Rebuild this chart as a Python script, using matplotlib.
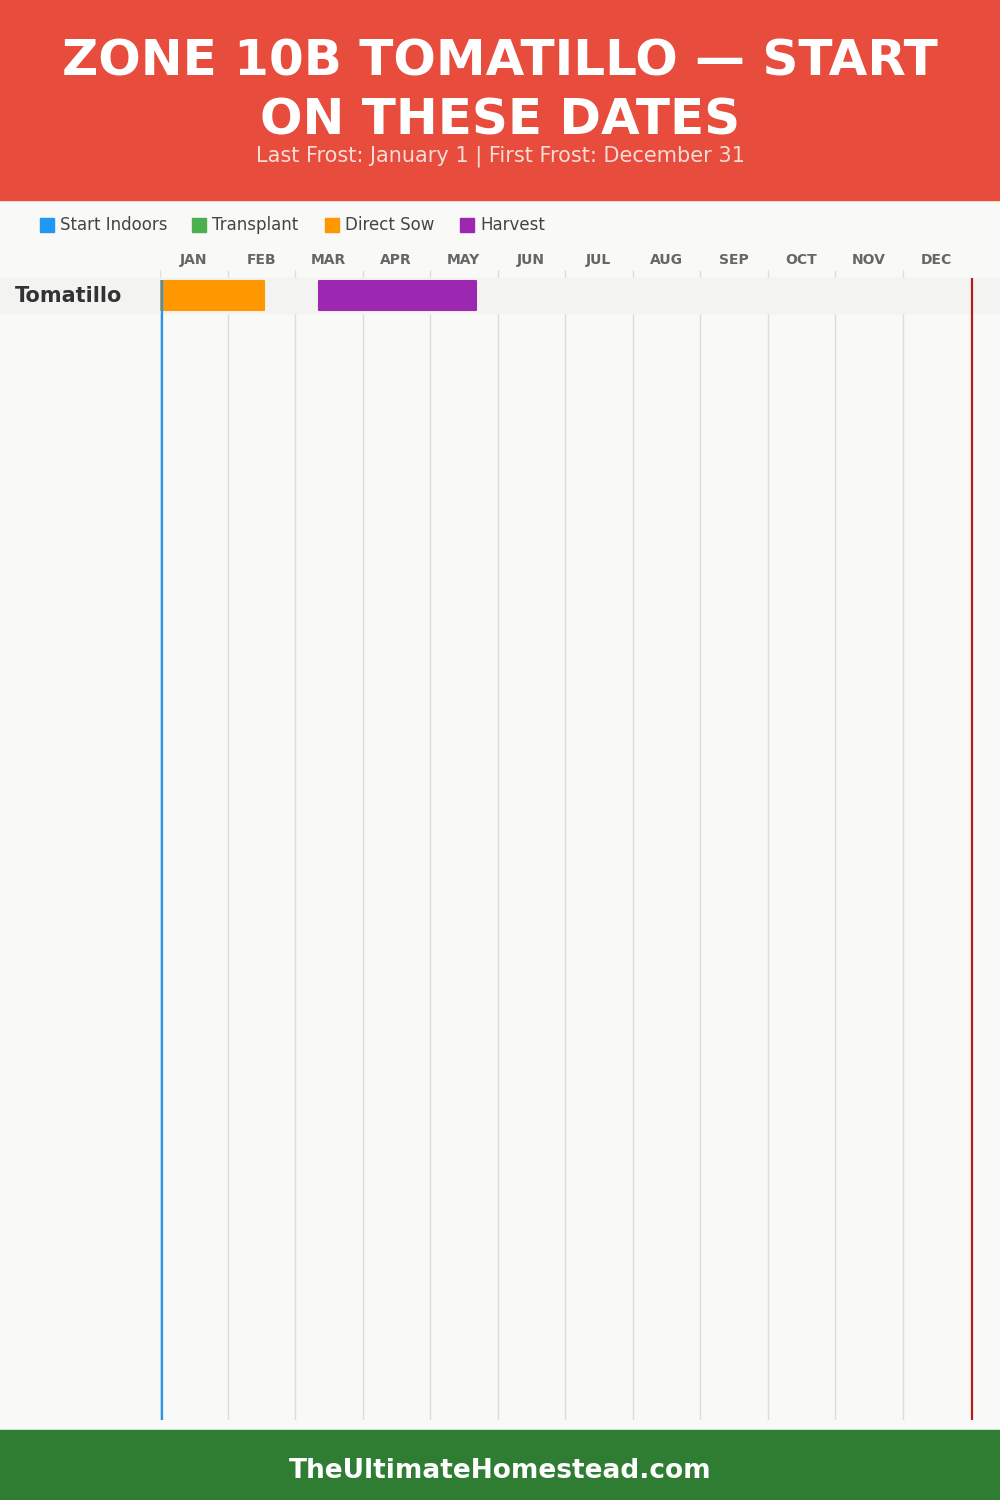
import matplotlib
matplotlib.use("Agg")
import matplotlib.pyplot as plt
import matplotlib.transforms as mtransforms
from matplotlib.patches import Rectangle

# data
months = ["JAN", "FEB", "MAR", "APR", "MAY", "JUN", "JUL", "AUG", "SEP", "OCT", "NOV", "DEC"]
month_days = [31, 28, 31, 30, 31, 30, 31, 31, 30, 31, 30, 31]
crops = ["Tomatillo"]
legend_labels = ["Start Indoors", "Transplant", "Direct Sow", "Harvest"]
legend_colors = ["#2196F3", "#4CAF50", "#FF9800", "#9C27B0"]
# (crop, start (month, day), end (month, day))
direct_sow = [("Tomatillo", (1, 1), (2, 16))]
harvest = [("Tomatillo", (3, 12), (5, 22))]
last_frost = (1, 1)
first_frost = (12, 31)

title = "ZONE 10B TOMATILLO — START\nON THESE DATES"
subtitle = "Last Frost: January 1 | First Frost: December 31"
footer = "TheUltimateHomestead.com"


def pos(md, end=False):
    m, d = md
    return (m - 1) + (d - (0 if end else 1)) / month_days[m - 1]


W, H = 1000, 1500
fig = plt.figure(figsize=(10, 15), dpi=100)
fig.patch.set_facecolor("#f9f9f7")

# header / footer
fig.patches.append(Rectangle((0, 1 - 200 / H), 1, 200 / H, transform=fig.transFigure,
                             color="#e74c3c", zorder=0))
fig.patches.append(Rectangle((0, 0), 1, 70 / H, transform=fig.transFigure,
                             color="#2e7d32", zorder=0))
fig.text(0.5, 1 - 91 / H, title, ha="center", va="center", color="white",
         fontsize=36, fontweight="heavy", linespacing=1.3)
fig.text(0.5, 1 - 156 / H, subtitle, ha="center", va="center", color="#f8dcd8", fontsize=15)
fig.text(0.5, 1 - 1471 / H, footer, ha="center", va="center", color="white",
         fontsize=19, fontweight="bold")

# legend
leg_x = [40, 192, 325, 460]
for x, lab, c in zip(leg_x, legend_labels, legend_colors):
    fig.patches.append(Rectangle((x / W, 1 - 232 / H), 14 / W, 14 / H,
                                 transform=fig.transFigure, color=c))
    fig.text((x + 20) / W, 1 - 225 / H, lab, ha="left", va="center",
             color="#444444", fontsize=12)

# chart axes
left, right, top, bottom = 160, 970, 270, 1420
ax = fig.add_axes([left / W, 1 - bottom / H, (right - left) / W, (bottom - top) / H])
ax.set_facecolor("none")
for s in ax.spines.values():
    s.set_visible(False)

row_h = 35
y_top = -0.5 - 8 / row_h
y_bot = y_top + (bottom - top) / row_h
ax.set_xlim(0, 12)
ax.set_ylim(y_bot, y_top)

ax.xaxis.tick_top()
ax.set_xticks([i + 0.5 for i in range(12)])
ax.set_xticklabels(months, fontsize=10, fontweight="bold", color="#666666")
ax.tick_params(axis="x", length=0, pad=2)
ax.set_yticks([])

ax.vlines(range(13), y_bot, y_top, color="#dddddd", lw=1, zorder=0.5)

band_tr = mtransforms.blended_transform_factory(fig.transFigure, ax.transData)
for i, crop in enumerate(crops):
    ax.add_patch(Rectangle((0, i - 0.5), 1, 1, transform=band_tr, clip_on=False,
                           color="#f3f3f2", zorder=1))
    fig.text(15 / W, i, crop, transform=band_tr, ha="left", va="center",
             fontsize=15, fontweight="bold", color="#333333")

for rows, c in [(direct_sow, legend_colors[2]), (harvest, legend_colors[3])]:
    for crop, s, e in rows:
        y = crops.index(crop)
        x0, x1 = pos(s), pos(e)
        ax.barh(y, x1 - x0, left=x0, height=29 / row_h, color=c, edgecolor=c,
                lw=1.5, joinstyle="round", zorder=2)

ax.vlines(pos(last_frost) + 0.03, -0.5 + 2 / row_h, y_bot, color="#2196F3",
          lw=1.6, zorder=3, clip_on=False)
ax.vlines(pos(first_frost, end=True) + 0.03, -0.5, y_bot, color="#b71c1c",
          lw=1.6, zorder=3, clip_on=False)

fig.savefig("out.png", dpi=100, facecolor=fig.get_facecolor())
